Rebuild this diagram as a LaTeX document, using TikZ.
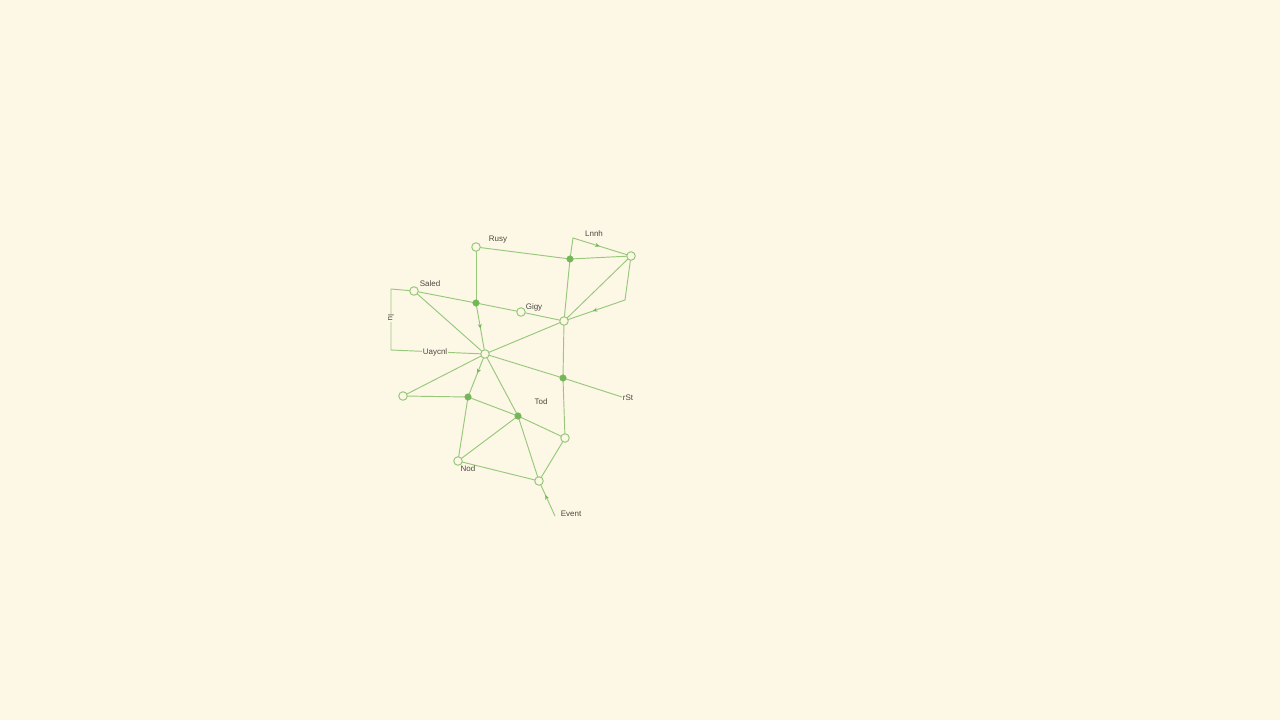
\documentclass[tikz,border=0pt]{standalone}
\usepackage{fontspec}
\setmainfont{Liberation Sans}
\usetikzlibrary{decorations.markings,arrows.meta}
\definecolor{bg}{HTML}{FDF7E6}
\definecolor{ln}{HTML}{98C87C}
\definecolor{dot}{HTML}{74B65A}
\definecolor{tx}{HTML}{4A4A40}
\tikzset{
  opennode/.style={circle,draw=ln,fill=bg,line width=1pt,minimum size=8.5pt,inner sep=0pt},
  filldot/.style={circle,fill=dot,draw=dot,line width=0.5pt,minimum size=6.5pt,inner sep=0pt},
  edge/.style={draw=ln,line width=0.95pt},
  midarrow/.style={edge,postaction={decorate},decoration={markings,mark=at position #1 with {\arrow[dot]{Stealth[length=4.5pt,width=4pt]}}}},
  lbl/.style={text=tx,font=\fontsize{8}{9.5}\selectfont,inner sep=1pt}
}
\begin{document}
\begin{tikzpicture}[x=1pt,y=-1pt]
\fill[bg] (0,0) rectangle (1280,720);
\useasboundingbox (0,0) rectangle (1280,720);
% coordinates
\coordinate (kc) at (573,238);
\coordinate (ec) at (625,300);
\coordinate (bl) at (391,289);
\coordinate (bl2) at (391,350);
\coordinate (rst) at (622,397);
\coordinate (ev) at (555,516);
\coordinate (A) at (476,247);
\coordinate (K) at (570,259);
\coordinate (E) at (631,256);
\coordinate (D) at (564,321);
\coordinate (B) at (414,291);
\coordinate (L) at (476,303);
\coordinate (C) at (521,312);
\coordinate (F) at (485,354);
\coordinate (G) at (403,396);
\coordinate (H) at (565,438);
\coordinate (I) at (458,461);
\coordinate (J) at (539,481);
\coordinate (M) at (563,378);
\coordinate (N) at (468,397);
\coordinate (O) at (518,416);
% edges
\draw[edge] (A) -- (K);
\draw[edge] (A) -- (L);
\draw[edge] (K) -- (E);
\draw[edge] (K) -- (D);
\draw[edge] (E) -- (D);
\draw[midarrow=0.6] (K) -- (kc) -- (E);
\draw[midarrow=0.72] (E) -- (ec) -- (D);
\draw[edge] (B) -- (L) -- (C) -- (D);
\draw[edge] (B) -- (F);
\draw[edge] (B) -- (bl) -- (bl2) -- (F);
\draw[midarrow=0.5] (L) -- (F);
\draw[edge] (F) -- (D);
\draw[edge] (F) -- (G);
\draw[edge] (G) -- (N);
\draw[midarrow=0.45] (F) -- (N);
\draw[edge] (F) -- (O);
\draw[edge] (F) -- (M) -- (rst);
\draw[edge] (D) -- (M) -- (H);
\draw[edge] (N) -- (O) -- (H);
\draw[edge] (N) -- (I);
\draw[edge] (O) -- (I);
\draw[edge] (O) -- (J);
\draw[edge] (I) -- (J);
\draw[edge] (H) -- (J);
\draw[midarrow=0.6] (ev) -- (J);
% nodes
\foreach \n in {A,B,C,D,E,F,G,H,I,J} \node[opennode] (n\n) at (\n) {};
\foreach \n in {K,L,M,N,O} \node[filldot] (n\n) at (\n) {};
% labels
\node[lbl] (tA) at (498,240) {Rusy};
\node[lbl] (tK) at (594,234) {Lnnh};
\node[lbl] (tB) at (430,284) {Saled};
\node[lbl] (tC) at (534,307) {Gigy};
\node[lbl,rotate=-90,fill=bg] (tlu) at (391,318) {lu};
\node[lbl,fill=bg] (tF) at (435,352) {Uaycnl};
\node[lbl] (tO) at (541,402) {Tod};
\node[lbl] (tR) at (628,398) {rSt};
\node[lbl] (tI) at (468,469) {Nod};
\node[lbl] (tJ) at (571,514) {Event};
\end{tikzpicture}
\end{document}
